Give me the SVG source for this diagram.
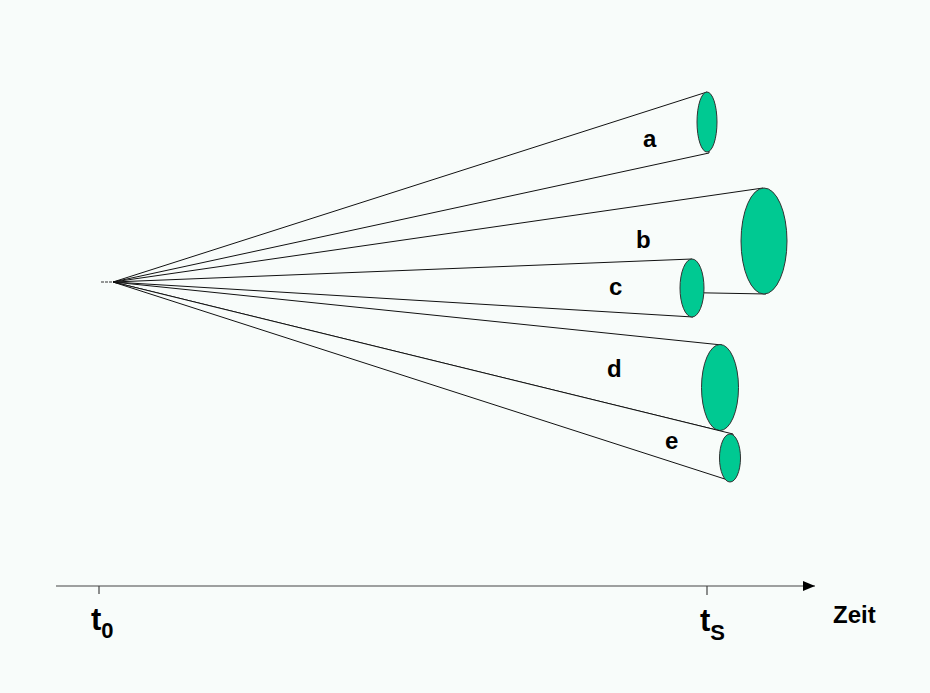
<svg xmlns="http://www.w3.org/2000/svg" width="930" height="693" viewBox="0 0 930 693">
  <style>
    .cone { fill: #F8FCFA; stroke: #111; stroke-width: 1; stroke-linejoin: round; }
    .disc { fill: #00C992; stroke: #333; stroke-width: 1; }
    .lbl { font-family: "Liberation Sans", Arial, sans-serif; font-weight: bold; fill: #000; }
    .axis { stroke: #444; stroke-width: 1.2; fill: none; }
  </style>
  <defs>
    <marker id="arrow" markerWidth="12" markerHeight="10" refX="12" refY="5" orient="auto" markerUnits="userSpaceOnUse">
      <path d="M0,0 L12,5 L0,10 Z" fill="#000"/>
    </marker>
  </defs>
  <rect x="0" y="0" width="930" height="693" fill="#F8FCFA"/>

  <g id="origin">
    <path d="M101,282 L113,282" stroke="#333" stroke-width="1" stroke-dasharray="3,1"/>
  </g>

  <g id="cone-a">
    <path class="cone" d="M113,282 L707,92 L709,153 Z"/>
    <ellipse class="disc" cx="707" cy="122" rx="10" ry="30"/>
    <text class="lbl" x="643" y="147" font-size="24">a</text>
  </g>

  <g id="cone-b">
    <path class="cone" d="M113,282 L763,188 L766,294 Z"/>
    <ellipse class="disc" cx="764" cy="241" rx="23" ry="53"/>
    <text class="lbl" x="636" y="248" font-size="24">b</text>
  </g>

  <g id="cone-c">
    <path class="cone" d="M113,282 L692,259 L693,317 Z"/>
    <ellipse class="disc" cx="692" cy="288" rx="12" ry="29"/>
    <text class="lbl" x="609" y="295" font-size="24">c</text>
  </g>

  <g id="cone-d">
    <path class="cone" d="M113,282 L722,345 L719,430.6 Z"/>
    <ellipse class="disc" cx="720" cy="387.5" rx="18.5" ry="43"/>
    <text class="lbl" x="607" y="377" font-size="24">d</text>
  </g>

  <g id="cone-e">
    <path class="cone" d="M113,282 L733,434 L731,481 Z"/>
    <ellipse class="disc" cx="730" cy="458" rx="10.5" ry="24"/>
    <text class="lbl" x="665" y="449" font-size="24">e</text>
  </g>

  <g id="connectors">
    <line class="axis" x1="56" y1="586" x2="815" y2="586" marker-end="url(#arrow)"/>
    <line class="axis" x1="99" y1="586" x2="99" y2="594"/>
    <line class="axis" x1="707" y1="586" x2="707" y2="595"/>
  </g>

  <g id="label-t0">
    <text class="lbl" x="91" y="630" font-size="31">t<tspan font-size="22" dy="8">0</tspan></text>
  </g>
  <g id="label-ts">
    <text class="lbl" x="700" y="631" font-size="31">t<tspan font-size="22" dy="9">S</tspan></text>
  </g>
  <g id="label-zeit">
    <text class="lbl" x="833" y="623" font-size="24">Zeit</text>
  </g>
</svg>
